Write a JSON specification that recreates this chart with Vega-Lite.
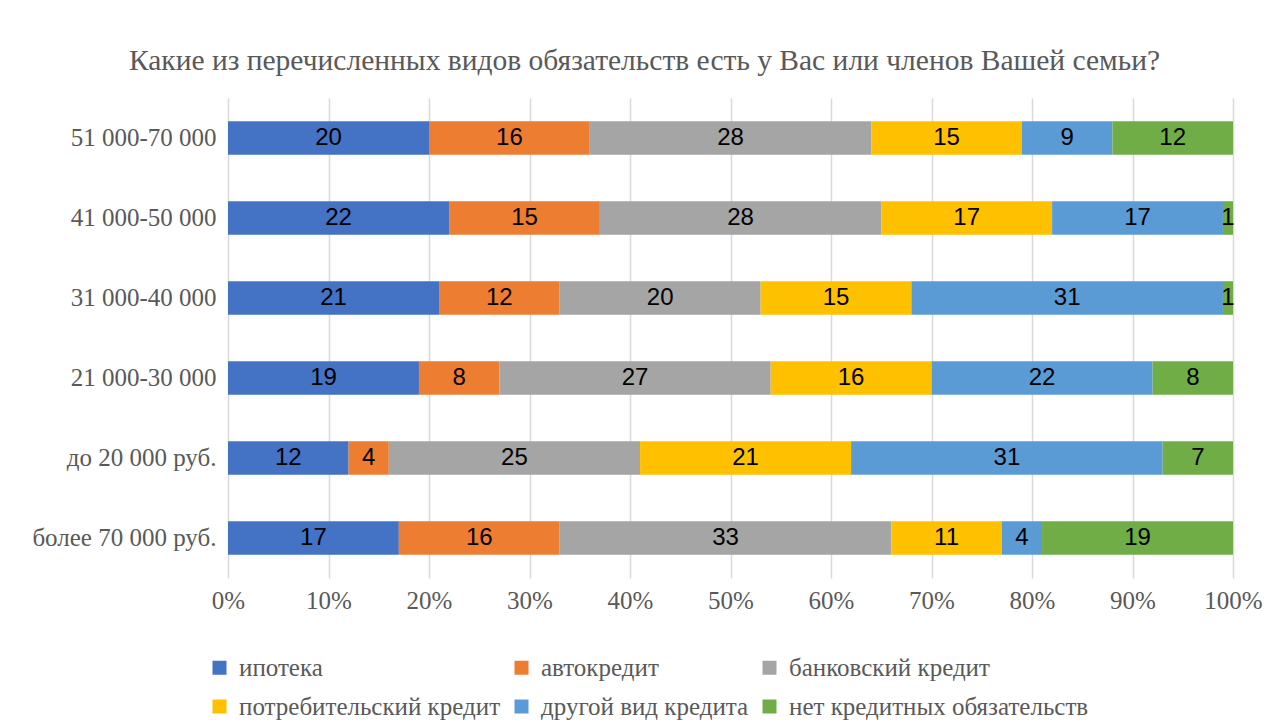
{
  "$schema": "https://vega.github.io/schema/vega-lite/v6.json",
  "autosize": {"type": "none"},
  "width": 1005,
  "height": 480,
  "padding": {"left": 228, "top": 98, "right": 55, "bottom": 145},
  "background": "white",
  "title": {
    "text": "Какие из перечисленных видов обязательств есть у Вас или членов Вашей семьи?",
    "font": "Liberation Serif",
    "fontSize": 29.5,
    "fontWeight": "normal",
    "color": "#595959",
    "anchor": "middle",
    "frame": "group",
    "dx": -86,
    "offset": 22
  },
  "data": {
    "values": [
      {"group": "51 000-70 000", "type": "ипотека", "k": 1, "value": 20},
      {"group": "51 000-70 000", "type": "автокредит", "k": 2, "value": 16},
      {"group": "51 000-70 000", "type": "банковский кредит", "k": 3, "value": 28},
      {"group": "51 000-70 000", "type": "потребительский кредит", "k": 4, "value": 15},
      {"group": "51 000-70 000", "type": "другой вид кредита", "k": 5, "value": 9},
      {"group": "51 000-70 000", "type": "нет кредитных обязательств", "k": 6, "value": 12},
      {"group": "41 000-50 000", "type": "ипотека", "k": 1, "value": 22},
      {"group": "41 000-50 000", "type": "автокредит", "k": 2, "value": 15},
      {"group": "41 000-50 000", "type": "банковский кредит", "k": 3, "value": 28},
      {"group": "41 000-50 000", "type": "потребительский кредит", "k": 4, "value": 17},
      {"group": "41 000-50 000", "type": "другой вид кредита", "k": 5, "value": 17},
      {"group": "41 000-50 000", "type": "нет кредитных обязательств", "k": 6, "value": 1},
      {"group": "31 000-40 000", "type": "ипотека", "k": 1, "value": 21},
      {"group": "31 000-40 000", "type": "автокредит", "k": 2, "value": 12},
      {"group": "31 000-40 000", "type": "банковский кредит", "k": 3, "value": 20},
      {"group": "31 000-40 000", "type": "потребительский кредит", "k": 4, "value": 15},
      {"group": "31 000-40 000", "type": "другой вид кредита", "k": 5, "value": 31},
      {"group": "31 000-40 000", "type": "нет кредитных обязательств", "k": 6, "value": 1},
      {"group": "21 000-30 000", "type": "ипотека", "k": 1, "value": 19},
      {"group": "21 000-30 000", "type": "автокредит", "k": 2, "value": 8},
      {"group": "21 000-30 000", "type": "банковский кредит", "k": 3, "value": 27},
      {"group": "21 000-30 000", "type": "потребительский кредит", "k": 4, "value": 16},
      {"group": "21 000-30 000", "type": "другой вид кредита", "k": 5, "value": 22},
      {"group": "21 000-30 000", "type": "нет кредитных обязательств", "k": 6, "value": 8},
      {"group": "до 20 000 руб.", "type": "ипотека", "k": 1, "value": 12},
      {"group": "до 20 000 руб.", "type": "автокредит", "k": 2, "value": 4},
      {"group": "до 20 000 руб.", "type": "банковский кредит", "k": 3, "value": 25},
      {"group": "до 20 000 руб.", "type": "потребительский кредит", "k": 4, "value": 21},
      {"group": "до 20 000 руб.", "type": "другой вид кредита", "k": 5, "value": 31},
      {"group": "до 20 000 руб.", "type": "нет кредитных обязательств", "k": 6, "value": 7},
      {"group": "более 70 000 руб.", "type": "ипотека", "k": 1, "value": 17},
      {"group": "более 70 000 руб.", "type": "автокредит", "k": 2, "value": 16},
      {"group": "более 70 000 руб.", "type": "банковский кредит", "k": 3, "value": 33},
      {"group": "более 70 000 руб.", "type": "потребительский кредит", "k": 4, "value": 11},
      {"group": "более 70 000 руб.", "type": "другой вид кредита", "k": 5, "value": 4},
      {"group": "более 70 000 руб.", "type": "нет кредитных обязательств", "k": 6, "value": 19}
    ]
  },
  "transform": [
    {"stack": "value", "groupby": ["group"], "sort": [{"field": "k", "order": "ascending"}], "as": ["x0", "x1"]},
    {"calculate": "(datum.x0 + datum.x1) / 2", "as": "xm"}
  ],
  "encoding": {
    "y": {
      "field": "group",
      "type": "nominal",
      "sort": ["51 000-70 000", "41 000-50 000", "31 000-40 000", "21 000-30 000", "до 20 000 руб.", "более 70 000 руб."],
      "scale": {"paddingInner": 0.58, "paddingOuter": 0.29},
      "axis": {
        "title": null,
        "domain": false,
        "ticks": false,
        "grid": false,
        "labelFontSize": 25,
        "labelColor": "#595959",
        "labelPadding": 12,
        "labelLimit": 400
      }
    }
  },
  "layer": [
    {
      "mark": {"type": "bar", "strokeWidth": 0},
      "encoding": {
        "x": {
          "field": "x0",
          "type": "quantitative",
          "scale": {"domain": [0, 100], "nice": false},
          "axis": {
            "title": null,
            "values": [0, 10, 20, 30, 40, 50, 60, 70, 80, 90, 100],
            "labelExpr": "datum.value + '%'",
            "labelFlush": false,
            "labelOverlap": false,
            "domain": false,
            "ticks": false,
            "grid": true,
            "gridColor": "#D9D9D9",
            "gridWidth": 1.5,
            "labelFont": "Liberation Serif",
            "labelFontSize": 25,
            "labelColor": "#595959",
            "labelPadding": 10
          }
        },
        "x2": {"field": "x1"},
        "color": {
          "field": "type",
          "type": "nominal",
          "sort": ["ипотека", "автокредит", "банковский кредит", "потребительский кредит", "другой вид кредита", "нет кредитных обязательств"],
          "scale": {
            "domain": ["ипотека", "автокредит", "банковский кредит", "потребительский кредит", "другой вид кредита", "нет кредитных обязательств"],
            "range": ["#4472C4", "#ED7D31", "#A5A5A5", "#FFC000", "#5B9BD5", "#70AD47"]
          },
          "legend": {
            "title": null,
            "orient": "none",
            "direction": "horizontal",
            "columns": 3,
            "legendX": -21,
            "legendY": 557,
            "padding": 0,
            "symbolType": "square",
            "symbolSize": 196,
            "symbolStrokeWidth": 0,
            "symbolOpacity": 1,
            "labelFont": "Liberation Serif",
            "labelFontSize": 25,
            "labelColor": "#595959",
            "labelLimit": 500,
            "labelOffset": 7,
            "columnPadding": 8,
            "rowPadding": 13
          }
        }
      }
    },
    {
      "mark": {"type": "text", "fontSize": 24, "color": "black", "align": "center", "baseline": "middle"},
      "encoding": {
        "x": {"field": "xm", "type": "quantitative"},
        "text": {"field": "value", "type": "quantitative"}
      }
    }
  ],
  "config": {
    "font": "Liberation Serif",
    "view": {"stroke": null},
    "text": {"font": "Liberation Sans"},
    "axis": {"labelFont": "Liberation Serif"},
    "legend": {"labelFont": "Liberation Serif"}
  }
}
